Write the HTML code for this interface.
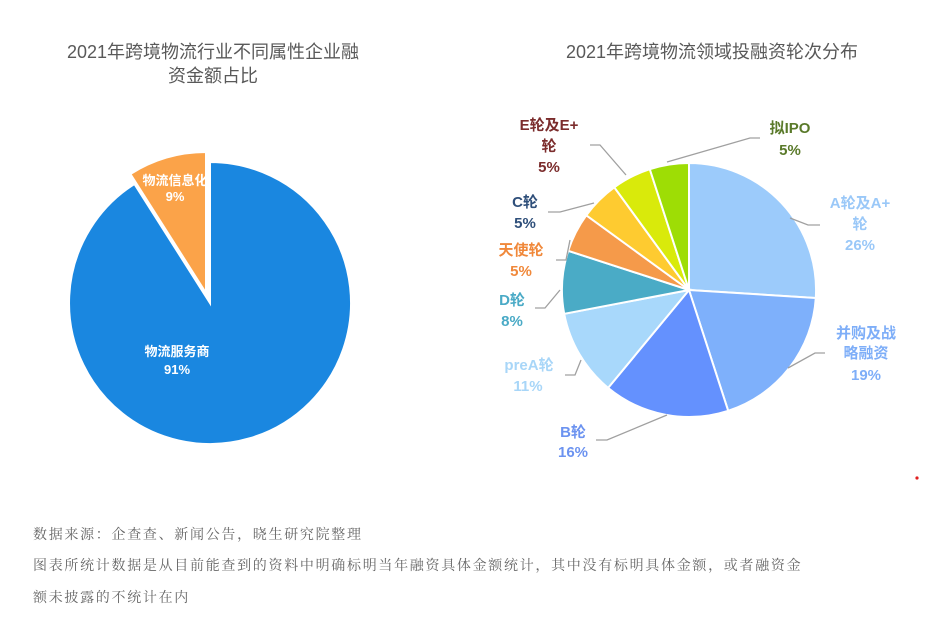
<!DOCTYPE html>
<html><head><meta charset="utf-8"><style>
body{margin:0;background:#fff;}
svg text{font-family:"Liberation Sans","Noto Sans CJK SC",sans-serif;}
.f{font-family:"Liberation Serif","Noto Serif CJK SC",serif;font-size:14px;letter-spacing:1.7px;fill:#666;}
</style></head><body>
<svg width="927" height="617" viewBox="0 0 927 617" xmlns="http://www.w3.org/2000/svg">
<rect width="927" height="617" fill="#fff"/>
<text x="213" y="58" font-size="18" fill="#595959" text-anchor="middle">2021年跨境物流行业不同属性企业融</text>
<text x="213" y="82" font-size="18" fill="#595959" text-anchor="middle">资金额占比</text>
<text x="712" y="58" font-size="18" fill="#595959" text-anchor="middle">2021年跨境物流领域投融资轮次分布</text>
<path d="M210,303 L210,162 A141,141 0 1,1 134.4,184 Z" fill="#1a87e0" stroke="#fff" stroke-width="2"/>
<defs><clipPath id="oc"><path d="M206,293 L130.4,174 A141,141 0 0,1 206,152 Z"/></clipPath></defs>
<path d="M206,293 L130.4,174 A141,141 0 0,1 206,152 Z" fill="#fba349" stroke="#fff" stroke-width="2"/>
<g clip-path="url(#oc)" font-size="13" font-weight="bold" fill="#fff" text-anchor="middle">
<text x="175" y="185">物流信息化</text><text x="175" y="201">9%</text></g>
<text x="177" y="356" font-size="13" font-weight="bold" fill="#fff" text-anchor="middle">物流服务商</text>
<text x="177" y="374" font-size="13" font-weight="bold" fill="#fff" text-anchor="middle">91%</text>
<g stroke="#fff" stroke-width="2">
<path d="M689,290 L689,163 A127,127 0 0,1 815.8,298 Z" fill="#9ccbfb"/>
<path d="M689,290 L815.8,298 A127,127 0 0,1 728.2,410.8 Z" fill="#7eb0fb"/>
<path d="M689,290 L728.2,410.8 A127,127 0 0,1 608.1,387.9 Z" fill="#6491fe"/>
<path d="M689,290 L608.1,387.9 A127,127 0 0,1 564.2,313.8 Z" fill="#a8d8fb"/>
<path d="M689,290 L564.2,313.8 A127,127 0 0,1 568.2,250.8 Z" fill="#4aabc6"/>
<path d="M689,290 L568.2,250.8 A127,127 0 0,1 586.3,215.3 Z" fill="#f59a4a"/>
<path d="M689,290 L586.3,215.3 A127,127 0 0,1 614.3,187.3 Z" fill="#fecb30"/>
<path d="M689,290 L614.3,187.3 A127,127 0 0,1 649.8,169.2 Z" fill="#d9ea0b"/>
<path d="M689,290 L649.8,169.2 A127,127 0 0,1 689,163 Z" fill="#9edd05"/>
</g>
<g stroke="#a0a0a0" stroke-width="1.3" fill="none">
<polyline points="667,162 750,138 760,138"/>
<polyline points="626,175 600,145 590,145"/>
<polyline points="594,203 560,212 548,212"/>
<polyline points="570,240 566,260 556,260"/>
<polyline points="560,290 545,308 535,308"/>
<polyline points="581,360 575,375 565,375"/>
<polyline points="667,415 607,440 596,440"/>
<polyline points="790,218 808,225 820,225"/>
<polyline points="788,368 815,353 825,353"/>
</g>
<g font-size="15" font-weight="bold" text-anchor="middle">
<text x="549" y="130" fill="#7b2c2c">E轮及E+</text><text x="549" y="151" fill="#7b2c2c">轮</text><text x="549" y="172" fill="#7b2c2c">5%</text>
<text x="790" y="133" fill="#5a7a2a">拟IPO</text><text x="790" y="155" fill="#5a7a2a">5%</text>
<text x="525" y="207" fill="#2f4f7a">C轮</text><text x="525" y="228" fill="#2f4f7a">5%</text>
<text x="521" y="255" fill="#f0883a">天使轮</text><text x="521" y="276" fill="#f0883a">5%</text>
<text x="512" y="305" fill="#4aaac6">D轮</text><text x="512" y="326" fill="#4aaac6">8%</text>
<text x="529" y="370" fill="#a8d6f8">preA轮</text><text x="528" y="391" fill="#a8d6f8">11%</text>
<text x="573" y="437" fill="#6c93f0">B轮</text><text x="573" y="457" fill="#6c93f0">16%</text>
<text x="860" y="208" fill="#9ac8f8">A轮及A+</text><text x="860" y="229" fill="#9ac8f8">轮</text><text x="860" y="250" fill="#9ac8f8">26%</text>
<text x="866" y="338" fill="#7eaef8">并购及战</text><text x="866" y="358" fill="#7eaef8">略融资</text><text x="866" y="380" fill="#7eaef8">19%</text>
</g>
<circle cx="917" cy="478" r="1.6" fill="#e02020"/>
<text class="f" x="33" y="539">数据来源：企查查、新闻公告，晓生研究院整理</text>
<text class="f" x="33" y="570">图表所统计数据是从目前能查到的资料中明确标明当年融资具体金额统计，其中没有标明具体金额，或者融资金</text>
<text class="f" x="33" y="602">额未披露的不统计在内</text>
</svg>
</body></html>
